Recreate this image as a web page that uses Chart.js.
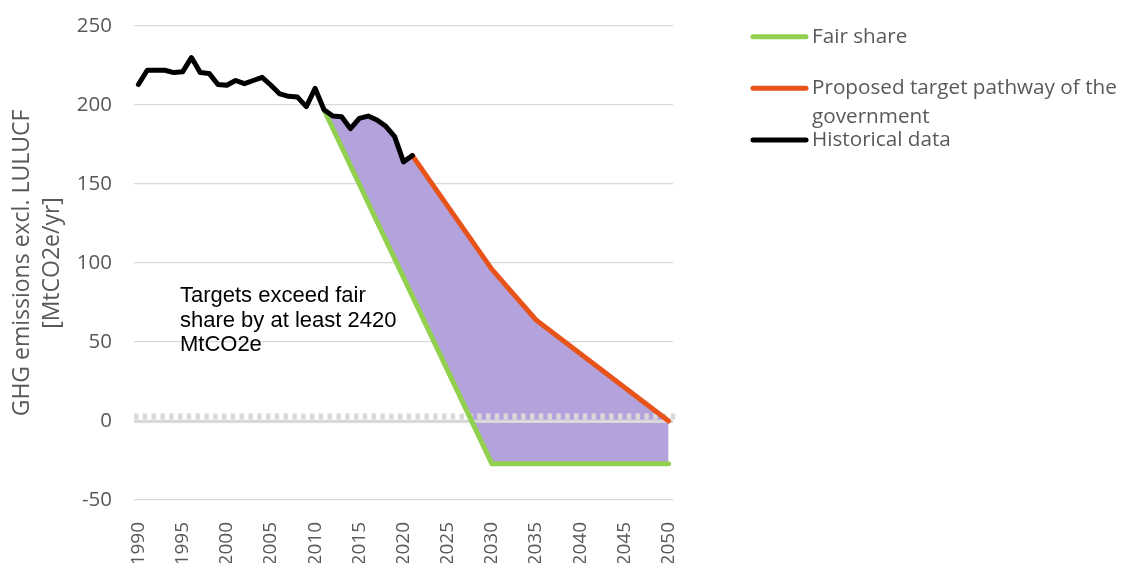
<!DOCTYPE html>
<html>
<head>
<meta charset="utf-8">
<script src="https://cdn.jsdelivr.net/npm/chart.js@4.4.1/dist/chart.umd.min.js"></script>
<style>
  html, body { margin: 0; padding: 0; background: #fff; }
  #wrap { width: 1122px; height: 563px; }
</style>
</head>
<body>
<div id="wrap"><canvas id="chart" width="1122" height="563"></canvas></div>
<script>
// historical emissions, MtCO2e/yr
const histYears = [1990, 1991, 1992, 1993, 1994, 1995, 1996, 1997, 1998, 1999,
                   2000, 2001, 2002, 2003, 2004, 2005, 2006, 2007, 2008, 2009,
                   2010, 2011, 2012, 2013, 2014, 2015, 2016, 2017, 2018, 2019,
                   2020, 2021];
const histValues = [213, 222, 222, 222, 220.5, 221, 230, 220.5, 220, 213,
                    212.5, 215.5, 213.5, 215.5, 217.5, 212.5, 207, 205.5, 205, 199,
                    210.5, 197, 193, 192.5, 185, 191.5, 193, 190.5, 186.5, 180,
                    164, 168];

// proposed government pathway
const targetYears = [2021, 2030, 2035, 2050];
const targetValues = [168, 96, 64, 0];

// fair share pathway
const fairYears = [2011, 2030, 2050];
const fairValues = [197, -27, -27];

const tickYears = [1990, 1995, 2000, 2005, 2010, 2015, 2020, 2025, 2030, 2035, 2040, 2045, 2050];
const yTicks = [-50, 0, 50, 100, 150, 200, 250];

const noteLines = ['Targets exceed fair', 'share by at least 2420', 'MtCO2e'];

const toPoints = (xs, ys) => xs.map((x, i) => ({ x: x, y: ys[i] }));

// upper edge of the shaded gap: history from the fair share start, then the target
const gapEdge = toPoints(histYears, histValues)
    .filter(p => p.x >= fairYears[0])
    .concat(toPoints(targetYears, targetValues).slice(1));

const grey = '#595959';

// zero line sits over the shading but under the lines
const zeroLine = {
    id: 'zeroLine',
    afterDatasetDraw(chart, args) {
        if (args.index !== 0) return;
        const { ctx, chartArea: { left, right } } = chart;
        const y0 = chart.scales.y.getPixelForValue(0);
        ctx.save();
        ctx.strokeStyle = '#D9D9D9';
        ctx.lineWidth = 3.3;
        ctx.beginPath();
        ctx.moveTo(left, y0 + 0.3);
        ctx.lineTo(right, y0 + 0.3);
        ctx.stroke();
        ctx.lineWidth = 6;
        ctx.setLineDash([4.4, 4.4]);
        ctx.beginPath();
        ctx.moveTo(left, y0 - 4.5);
        ctx.lineTo(right + 4, y0 - 4.5);
        ctx.stroke();
        ctx.restore();
    }
};

// text box and the excel-style legend on the right
const extras = {
    id: 'extras',
    afterDraw(chart) {
        const { ctx } = chart;
        ctx.save();
        ctx.fillStyle = '#000';
        ctx.font = '22px "Liberation Sans"';
        ctx.textAlign = 'left';
        ctx.textBaseline = 'middle';
        const nx = chart.scales.x.getPixelForValue(1994.7);
        const ny = chart.scales.y.getPixelForValue(79);
        noteLines.forEach((t, i) => ctx.fillText(t, nx, ny + i * 24.6));

        const itemY = [36.7, 88.3, 140];
        ctx.font = '20.7px "Open Sans"';
        ctx.fillStyle = grey;
        ctx.lineCap = 'round';
        ctx.lineWidth = 5;
        [1, 2, 3].forEach((di, k) => {
            const ds = chart.data.datasets[di];
            const y = itemY[k];
            ctx.strokeStyle = ds.borderColor;
            ctx.beginPath();
            ctx.moveTo(753, y);
            ctx.lineTo(806, y);
            ctx.stroke();
            ds.label.split('\n').forEach((t, j) => ctx.fillText(t, 812, y + j * 28.5));
        });
        ctx.restore();
    }
};

new Chart(document.getElementById('chart'), {
    type: 'line',
    data: {
        datasets: [
            {
                label: 'gap',
                data: gapEdge,
                borderWidth: 0,
                pointRadius: 0,
                backgroundColor: '#B3A2DC',
                fill: 1,
                order: 10
            },
            {
                label: 'Fair share',
                data: toPoints(fairYears, fairValues),
                borderColor: '#92D050',
                borderWidth: 5,
                borderCapStyle: 'round',
                pointRadius: 0,
                fill: false,
                order: 3
            },
            {
                label: 'Proposed target pathway of the\ngovernment',
                data: toPoints(targetYears, targetValues),
                borderColor: '#E8531A',
                borderWidth: 5,
                borderCapStyle: 'round',
                pointRadius: 0,
                fill: false,
                order: 2
            },
            {
                label: 'Historical data',
                data: toPoints(histYears, histValues),
                borderColor: '#000000',
                borderWidth: 5,
                borderCapStyle: 'round',
                borderJoinStyle: 'round',
                pointRadius: 0,
                fill: false,
                order: 1
            }
        ]
    },
    options: {
        responsive: false,
        animation: false,
        devicePixelRatio: 1,
        layout: { padding: { top: 26, right: 449, bottom: 0, left: 0 } },
        plugins: {
            legend: { display: false },
            tooltip: { enabled: false }
        },
        scales: {
            x: {
                type: 'linear',
                min: 1989.5,
                max: 2050.5,
                afterBuildTicks: s => { s.ticks = tickYears.map(v => ({ value: v })); },
                afterFit: s => { s.height = 63; },
                grid: { display: false },
                border: { display: false },
                ticks: {
                    autoSkip: false,
                    minRotation: 90,
                    maxRotation: 90,
                    padding: 14,
                    color: grey,
                    font: { family: 'Open Sans', size: 19 },
                    callback: v => String(v)
                }
            },
            y: {
                min: -50,
                max: 250,
                afterBuildTicks: s => { s.ticks = yTicks.map(v => ({ value: v })); },
                afterFit: s => { s.width = 134; s.paddingTop = 12; s.paddingBottom = 12; },
                grid: { color: '#D9D9D9', lineWidth: 1.3, drawTicks: false },
                border: { display: false },
                ticks: { padding: 22, color: grey, font: { family: 'Open Sans', size: 20.5 } },
                title: {
                    display: true,
                    text: ['GHG emissions excl. LULUCF', '[MtCO2e/yr]'],
                    color: grey,
                    font: { family: 'Open Sans', size: 23, lineHeight: 30 / 23 },
                    padding: { top: 7, bottom: 0 }
                }
            }
        }
    },
    plugins: [zeroLine, extras]
});
</script>
</body>
</html>
